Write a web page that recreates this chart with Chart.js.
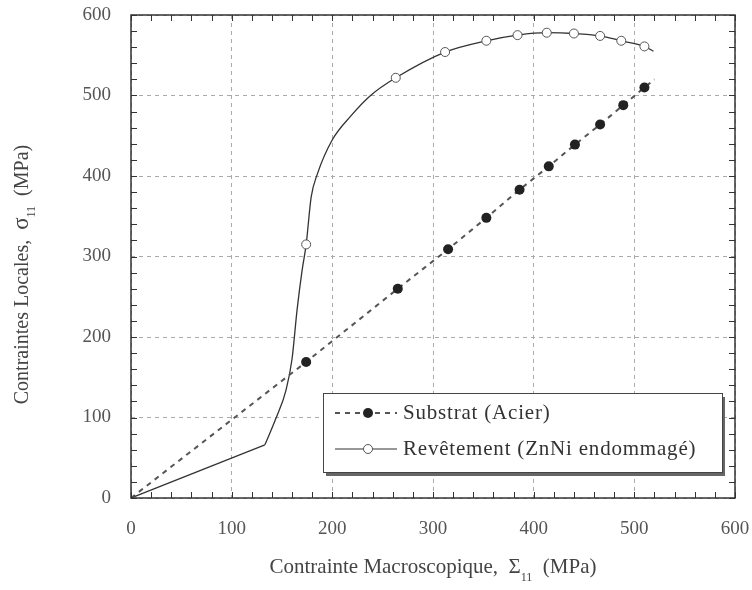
<!DOCTYPE html>
<html>
<head>
<meta charset="utf-8">
<script src="https://cdn.jsdelivr.net/npm/chart.js@4.4.0/dist/chart.umd.min.js"></script>
<style>
  html, body { margin: 0; background: #fff; }
  #wrap { width: 752px; height: 590px; }
</style>
</head>
<body>
<div id="wrap"><canvas id="chart"></canvas></div>
<script>
// Substrat (Acier) : points, ligne en tirets de 0 à 520
const substratX    = [0, 174, 265, 315, 353, 386, 415, 441, 466, 489, 510, 520];
const substratY    = [0, 169, 260, 309, 348, 383, 412, 439, 464, 488, 510, 520];
const substratMark = [0, 1,   1,   1,   1,   1,   1,   1,   1,   1,   1,   0];

// Revêtement (ZnNi endommagé) : partie linéaire jusqu'au coude, puis courbe
const revetX    = [0, 133, 144, 154, 160, 165, 170, 174, 179, 185, 200, 218, 238, 263, 312, 353, 384, 413, 440, 466, 487, 510, 519];
const revetY    = [0, 66,  99,  134, 173, 234, 283, 315, 374, 402, 445, 474, 500, 522, 554, 568, 575, 578, 577, 574, 568, 561, 555];
const revetMark = [0, 0,   0,   0,   0,   0,   0,   1,   0,   0,   0,   0,   0,   1,   1,   1,   1,   1,   1,   1,   1,   1,   0];
const kneeIndex = 1;

const axisTicks  = [0, 100, 200, 300, 400, 500, 600];
const minorTicks = [];
for (let v = 0; v <= 600; v += 20) minorTicks.push(v);

const legendLabels = ['Substrat (Acier)', 'Revêtement (ZnNi endommagé)'];
const xTitle = [['Contrainte Macroscopique,  ', 21, 0], ['Σ', 21, 0], ['11', 12, 8], ['  (MPa)', 21, 0]];
const yTitle = [['Contraintes Locales,  ', 20, 0], ['σ', 23, 0], ['11', 12, 7], ['  (MPa)', 20, 0]];

const serif = "'Liberation Serif', 'DejaVu Serif', serif";

// texte avec indices, centré sur (cx, cy)
function drawParts(ctx, parts, cx, cy, rot) {
    ctx.save();
    ctx.translate(cx, cy);
    ctx.rotate(rot);
    let total = 0;
    parts.forEach(p => { ctx.font = p[1] + 'px ' + serif; total += ctx.measureText(p[0]).width; });
    let x = -total / 2;
    parts.forEach(p => {
        ctx.font = p[1] + 'px ' + serif;
        ctx.fillText(p[0], x, 6 + p[2]);
        x += ctx.measureText(p[0]).width;
    });
    ctx.restore();
}

const revetPoints = revetX.map((v, i) => ({ x: v, y: revetY[i] }));

// pas de marge automatique autour des étiquettes, la mise en page est fixée à la main
function fixScale(s, w, h) {
    if (w) s.width = w;
    if (h) s.height = h;
    s.paddingTop = 0; s.paddingBottom = 0; s.paddingLeft = 0; s.paddingRight = 0;
}

// cadre, petites graduations intérieures, titres et légende
const framePlugin = {
    id: 'frame',
    afterDatasetsDraw(chart) {
        const { ctx, chartArea: a, scales: { x, y } } = chart;
        ctx.save();
        ctx.strokeStyle = '#333';
        ctx.lineWidth = 1;
        ctx.beginPath();
        minorTicks.forEach(v => {
            const px = Math.round(x.getPixelForValue(v)) + 0.5;
            const py = Math.round(y.getPixelForValue(v)) + 0.5;
            ctx.moveTo(px, a.bottom); ctx.lineTo(px, a.bottom - 6);
            ctx.moveTo(px, a.top);    ctx.lineTo(px, a.top + 6);
            ctx.moveTo(a.left, py);   ctx.lineTo(a.left + 6, py);
            ctx.moveTo(a.right, py);  ctx.lineTo(a.right - 6, py);
        });
        ctx.stroke();
        ctx.lineWidth = 1.5;
        ctx.strokeRect(a.left, a.top, a.right - a.left, a.bottom - a.top);

        // titres des axes
        ctx.fillStyle = '#444';
        ctx.textBaseline = 'alphabetic';
        drawParts(ctx, xTitle, (a.left + a.right) / 2, a.bottom + 69, 0);
        drawParts(ctx, yTitle, a.left - 109, (a.top + a.bottom) / 2 + 18, -Math.PI / 2);

        // légende
        const bx = a.right - 412, by = a.bottom - 105, bw = 399, bh = 79;
        ctx.fillStyle = '#666';
        ctx.fillRect(bx + 3, by + 4, bw, bh);
        ctx.fillStyle = '#fff';
        ctx.fillRect(bx, by, bw, bh);
        ctx.strokeStyle = '#444';
        ctx.lineWidth = 1;
        ctx.strokeRect(bx + 0.5, by + 0.5, bw, bh);

        const mx = bx + 45;
        const r1 = by + 20, r2 = by + 56;
        ctx.strokeStyle = '#555';
        ctx.lineWidth = 2;
        ctx.setLineDash([5, 5]);
        ctx.beginPath();
        ctx.moveTo(bx + 12, r1); ctx.lineTo(bx + 74, r1);
        ctx.stroke();
        ctx.setLineDash([]);
        ctx.fillStyle = '#222';
        ctx.beginPath(); ctx.arc(mx, r1, 5, 0, Math.PI * 2); ctx.fill();

        ctx.strokeStyle = '#333';
        ctx.lineWidth = 1.2;
        ctx.beginPath();
        ctx.moveTo(bx + 12, r2); ctx.lineTo(bx + 74, r2);
        ctx.stroke();
        ctx.fillStyle = '#fff';
        ctx.strokeStyle = '#555';
        ctx.lineWidth = 1;
        ctx.beginPath(); ctx.arc(mx, r2, 4.5, 0, Math.PI * 2); ctx.fill(); ctx.stroke();

        ctx.fillStyle = '#333';
        ctx.font = '21px ' + serif;
        ctx.letterSpacing = '0.8px';
        ctx.textBaseline = 'middle';
        ctx.fillText(legendLabels[0], bx + 80, r1);
        ctx.fillText(legendLabels[1], bx + 80, r2);
        ctx.restore();
    }
};

new Chart(document.getElementById('chart'), {
    type: 'line',
    data: {
        datasets: [{
            label: legendLabels[0],
            data: substratX.map((v, i) => ({ x: v, y: substratY[i] })),
            borderColor: '#555',
            borderWidth: 2,
            borderDash: [5, 5],
            tension: 0,
            pointRadius: c => substratMark[c.dataIndex] ? 5 : 0,
            pointBackgroundColor: '#222',
            pointBorderColor: '#222',
            pointBorderWidth: 0
        }, {
            // segment droit jusqu'au coude
            label: legendLabels[1],
            data: revetPoints.slice(0, kneeIndex + 1),
            borderColor: '#333',
            borderWidth: 1.3,
            tension: 0,
            pointRadius: 0
        }, {
            label: legendLabels[1],
            data: revetPoints.slice(kneeIndex),
            borderColor: '#333',
            borderWidth: 1.3,
            cubicInterpolationMode: 'monotone',
            pointRadius: c => revetMark[c.dataIndex + kneeIndex] ? 4.5 : 0,
            pointBackgroundColor: '#fff',
            pointBorderColor: '#555',
            pointBorderWidth: 1
        }]
    },
    options: {
        responsive: true,
        maintainAspectRatio: false,
        animation: false,
        layout: { padding: { left: 0, right: 17, top: 15, bottom: 0 } },
        plugins: {
            legend: { display: false },
            tooltip: { enabled: false }
        },
        scales: {
            x: {
                type: 'linear',
                min: 0, max: 600,
                afterBuildTicks: s => { s.ticks = axisTicks.map(v => ({ value: v })); },
                afterFit: s => fixScale(s, 0, 92),
                grid: { color: '#aaa', lineWidth: 1, drawTicks: false },
                border: { display: false, dash: [4, 4] },
                ticks: { padding: 20, color: '#555', font: { family: serif, size: 19 } }
            },
            y: {
                type: 'linear',
                min: 0, max: 600,
                afterBuildTicks: s => { s.ticks = axisTicks.map(v => ({ value: v })); },
                afterFit: s => fixScale(s, 131, 0),
                grid: { color: '#aaa', lineWidth: 1, drawTicks: false },
                border: { display: false, dash: [4, 4] },
                ticks: { padding: 20, color: '#555', font: { family: serif, size: 19 } }
            }
        }
    },
    plugins: [framePlugin]
});
</script>
</body>
</html>
